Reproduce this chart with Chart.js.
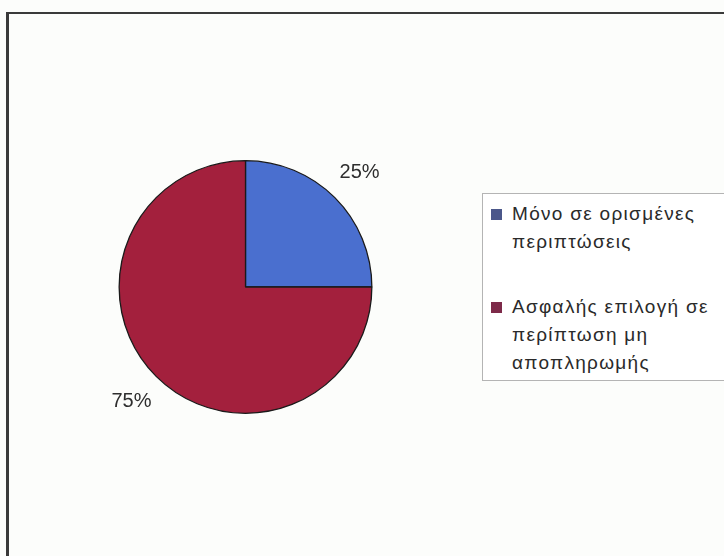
<!DOCTYPE html>
<html>
<head>
<meta charset="utf-8">
<script src="https://cdn.jsdelivr.net/npm/chart.js@4"></script>
<style>
  html, body { margin: 0; padding: 0; background: #fcfdfb; overflow: hidden; }
  #wrap { position: relative; width: 724px; height: 556px; }
  #frame {
    position: absolute; left: 6px; top: 12px; width: 740px; height: 560px;
    border-left: 3px solid #3a3a3a; border-top: 2px solid #3a3a3a;
  }
  #legend {
    position: absolute; left: 482px; top: 193px; width: 260px; height: 186px;
    border: 1px solid #b4b4b4; background: #ffffff;
    font-family: "Liberation Sans", Arial, sans-serif; font-size: 19px; color: #2a2a2a;
  }
  .item { position: absolute; left: 8px; }
  .swatch { position: absolute; left: 0; top: 9px; width: 11px; height: 11px; }
  .text { position: absolute; left: 21px; top: 0; line-height: 28px; white-space: nowrap; letter-spacing: 1.3px; }
</style>
</head>
<body>
<div id="wrap">
  <div id="frame"></div>
  <canvas id="pieChart" width="724" height="556"></canvas>
  <div id="legend"></div>
</div>
<script>
// answer categories, one entry per legend line
const categories = [
  ["Μόνο σε ορισμένες", "περιπτώσεις"],
  ["Ασφαλής επιλογή σε", "περίπτωση μη", "αποπληρωμής"]
];
const shares = [25, 75];

const sliceColors = ["#4a6fcf", "#a3203d"];
const swatchColors = ["#4b578a", "#7d2a49"];
const itemTops = [6, 99];

// percentage labels outside the slices
const outsideLabels = {
  id: "outsideLabels",
  afterDatasetsDraw(chart) {
    const ctx = chart.ctx;
    const data = chart.data.datasets[0].data;
    const total = data.reduce((a, b) => a + b, 0);
    chart.getDatasetMeta(0).data.forEach((arc, i) => {
      const p = arc.getProps(["x", "y", "startAngle", "endAngle", "outerRadius"]);
      const mid = (p.startAngle + p.endAngle) / 2;
      const r = p.outerRadius + 35;
      ctx.save();
      ctx.font = "20px 'Liberation Sans', Arial, sans-serif";
      ctx.fillStyle = "#2e2e2e";
      ctx.textAlign = "center";
      ctx.textBaseline = "middle";
      ctx.fillText(Math.round(data[i] / total * 100) + "%", p.x + Math.cos(mid) * r, p.y + Math.sin(mid) * r);
      ctx.restore();
    });
  }
};

new Chart(document.getElementById("pieChart"), {
  type: "pie",
  data: {
    labels: categories.map(c => c.join(" ")),
    datasets: [{
      data: shares,
      backgroundColor: sliceColors,
      borderColor: "#1a1a1a",
      borderWidth: 1.3
    }]
  },
  options: {
    responsive: false,
    animation: false,
    layout: { padding: { left: 118, right: 351, top: 160, bottom: 142 } },
    plugins: {
      legend: { display: false },
      tooltip: { enabled: false }
    }
  },
  plugins: [outsideLabels]
});

// legend box
const legend = document.getElementById("legend");
categories.forEach((lines, i) => {
  const item = document.createElement("div");
  item.className = "item";
  item.style.top = itemTops[i] + "px";
  item.innerHTML = `<div class="swatch" style="background:${swatchColors[i]}"></div>` +
    `<div class="text">${lines.join("<br>")}</div>`;
  legend.appendChild(item);
});
</script>
</body>
</html>
